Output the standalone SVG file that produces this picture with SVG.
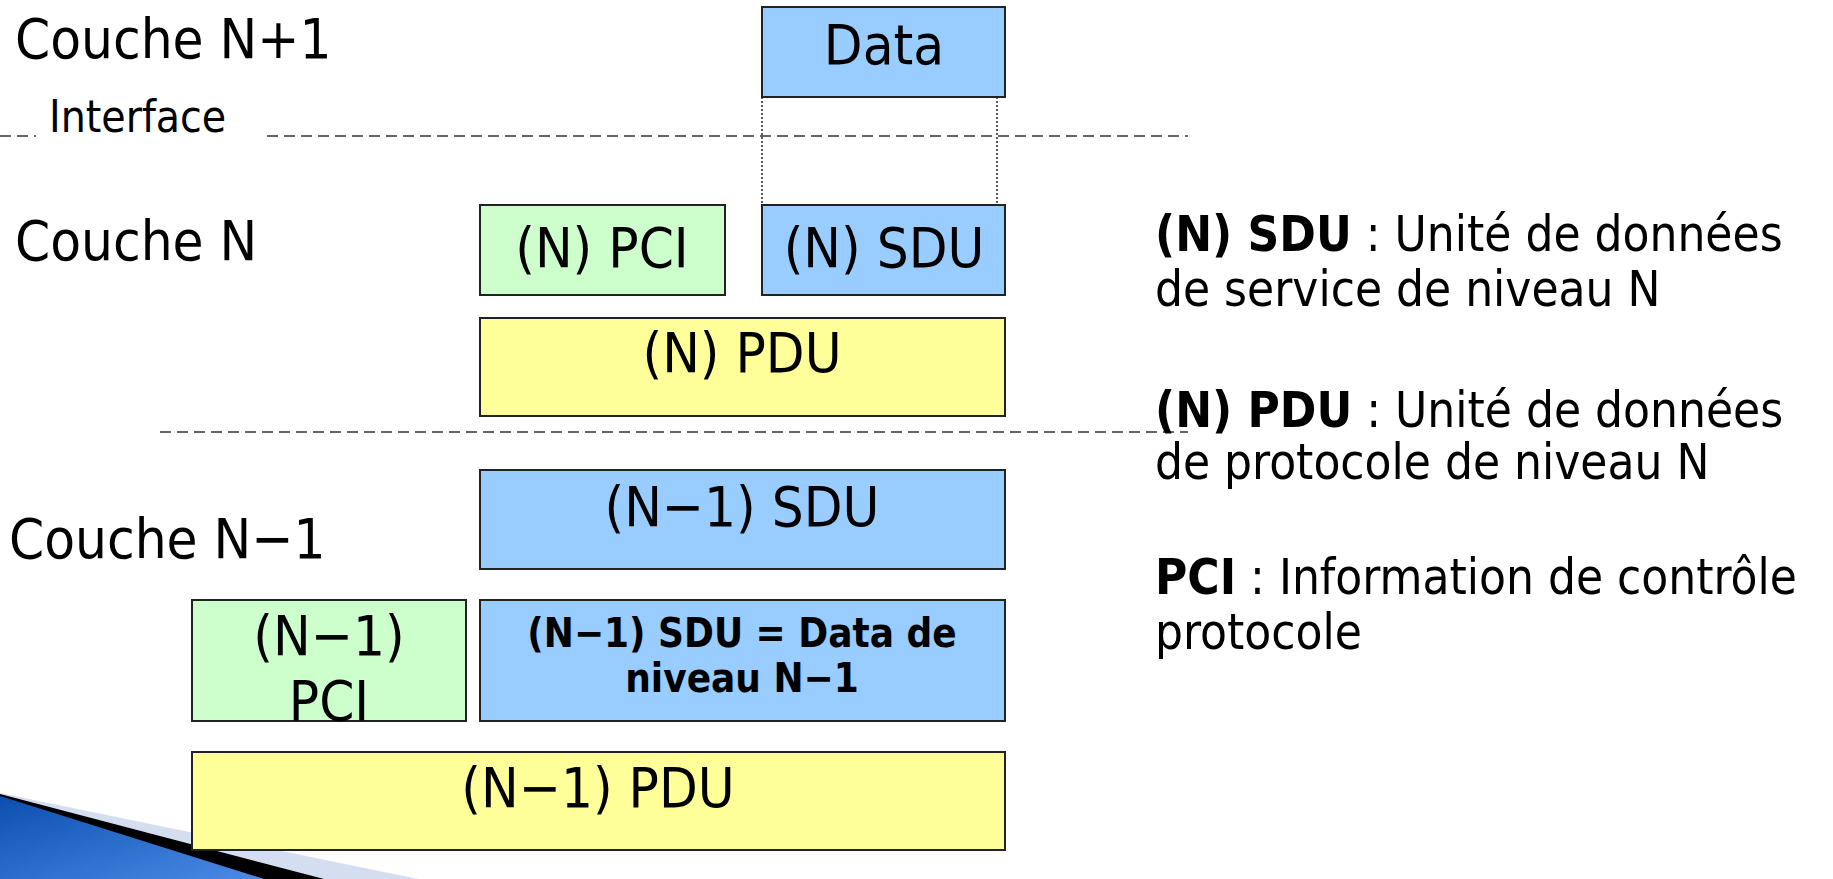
<svg xmlns="http://www.w3.org/2000/svg" width="1833" height="879" viewBox="0 0 1833 879">
<defs>
<style>
text{font-family:"DejaVu Sans Condensed","DejaVu Sans",sans-serif;font-stretch:condensed;fill:#000}
.big{font-size:56px}
.mid{font-size:44px}
.box{stroke:#222;stroke-width:2}
.blue{fill:#99CCFF}
.green{fill:#CCFFCC}
.yellow{fill:#FFFF99}
.c{text-anchor:middle}
.bold{font-weight:bold}
.dash{stroke:#333;stroke-width:1.5;stroke-dasharray:11 6;fill:none}
.dot{stroke:#222;stroke-width:1.5;stroke-dasharray:2 2;fill:none}
</style>
<linearGradient id="sw" x1="0" y1="0" x2="1" y2="1">
<stop offset="0" stop-color="#0B4FB0"/>
<stop offset="1" stop-color="#4B8BE6"/>
</linearGradient>
</defs>
<rect width="1833" height="879" fill="#fff"/>

<g id="decoration">
<polygon points="0,793 418,879 0,879" fill="#D5DDF0"/>
<polygon points="0,794 324,879 0,879" fill="#000"/>
<polygon points="0,796 264,879 0,879" fill="url(#sw)"/>
</g>

<g id="labels">
<text class="big" x="15" y="58">Couche N+1</text>
<text class="mid" x="49" y="132">Interface</text>
<text class="big" x="15" y="260">Couche N</text>
<text class="big" x="9" y="558">Couche N−1</text>
</g>

<g id="connectors">
<line class="dash" x1="0" y1="136" x2="36" y2="136"/>
<line class="dash" x1="267" y1="136" x2="1188" y2="136"/>
<line class="dash" x1="160" y1="432" x2="1188" y2="432"/>
<line class="dot" x1="762" y1="97" x2="762" y2="205"/>
<line class="dot" x1="997" y1="97" x2="997" y2="212"/>
</g>

<g id="data">
<rect class="box blue" x="762" y="7" width="243" height="90"/>
<text class="big c" x="884" y="64">Data</text>
</g>
<g id="n-pci">
<rect class="box green" x="480" y="205" width="245" height="90"/>
<text class="big c" x="602" y="267">(N) PCI</text>
</g>
<g id="n-sdu">
<rect class="box blue" x="762" y="205" width="243" height="90"/>
<text class="big c" x="884" y="267">(N) SDU</text>
</g>
<g id="n-pdu">
<rect class="box yellow" x="480" y="318" width="525" height="98"/>
<text class="big c" x="742" y="372">(N) PDU</text>
</g>
<g id="n1-sdu">
<rect class="box blue" x="480" y="470" width="525" height="99"/>
<text class="big c" x="742" y="526">(N−1) SDU</text>
</g>
<g id="n1-pci">
<rect class="box green" x="192" y="600" width="274" height="121"/>
<text class="big c" x="329" y="655">(N−1)</text>
<text class="big c" x="329" y="720">PCI</text>
</g>
<g id="n1-data">
<rect class="box blue" x="480" y="600" width="525" height="121"/>
<text class="c bold" style="font-size:40px" x="742" y="647">(N−1) SDU = Data de</text>
<text class="c bold" style="font-size:40px" x="742" y="692">niveau N−1</text>
</g>
<g id="n1-pdu">
<rect class="box yellow" x="192" y="752" width="813" height="98"/>
<text class="big c" x="598" y="807">(N−1) PDU</text>
</g>

<g id="legend" style="font-size:49px">
<text x="1155" y="251"><tspan class="bold">(N) SDU</tspan> : Unité de données</text>
<text x="1155" y="306">de service de niveau N</text>
<text x="1155" y="427"><tspan class="bold">(N) PDU</tspan> : Unité de données</text>
<text x="1155" y="479">de protocole de niveau N</text>
<text x="1155" y="594"><tspan class="bold">PCI</tspan> : Information de contrôle</text>
<text x="1155" y="649">protocole</text>
</g>
</svg>
